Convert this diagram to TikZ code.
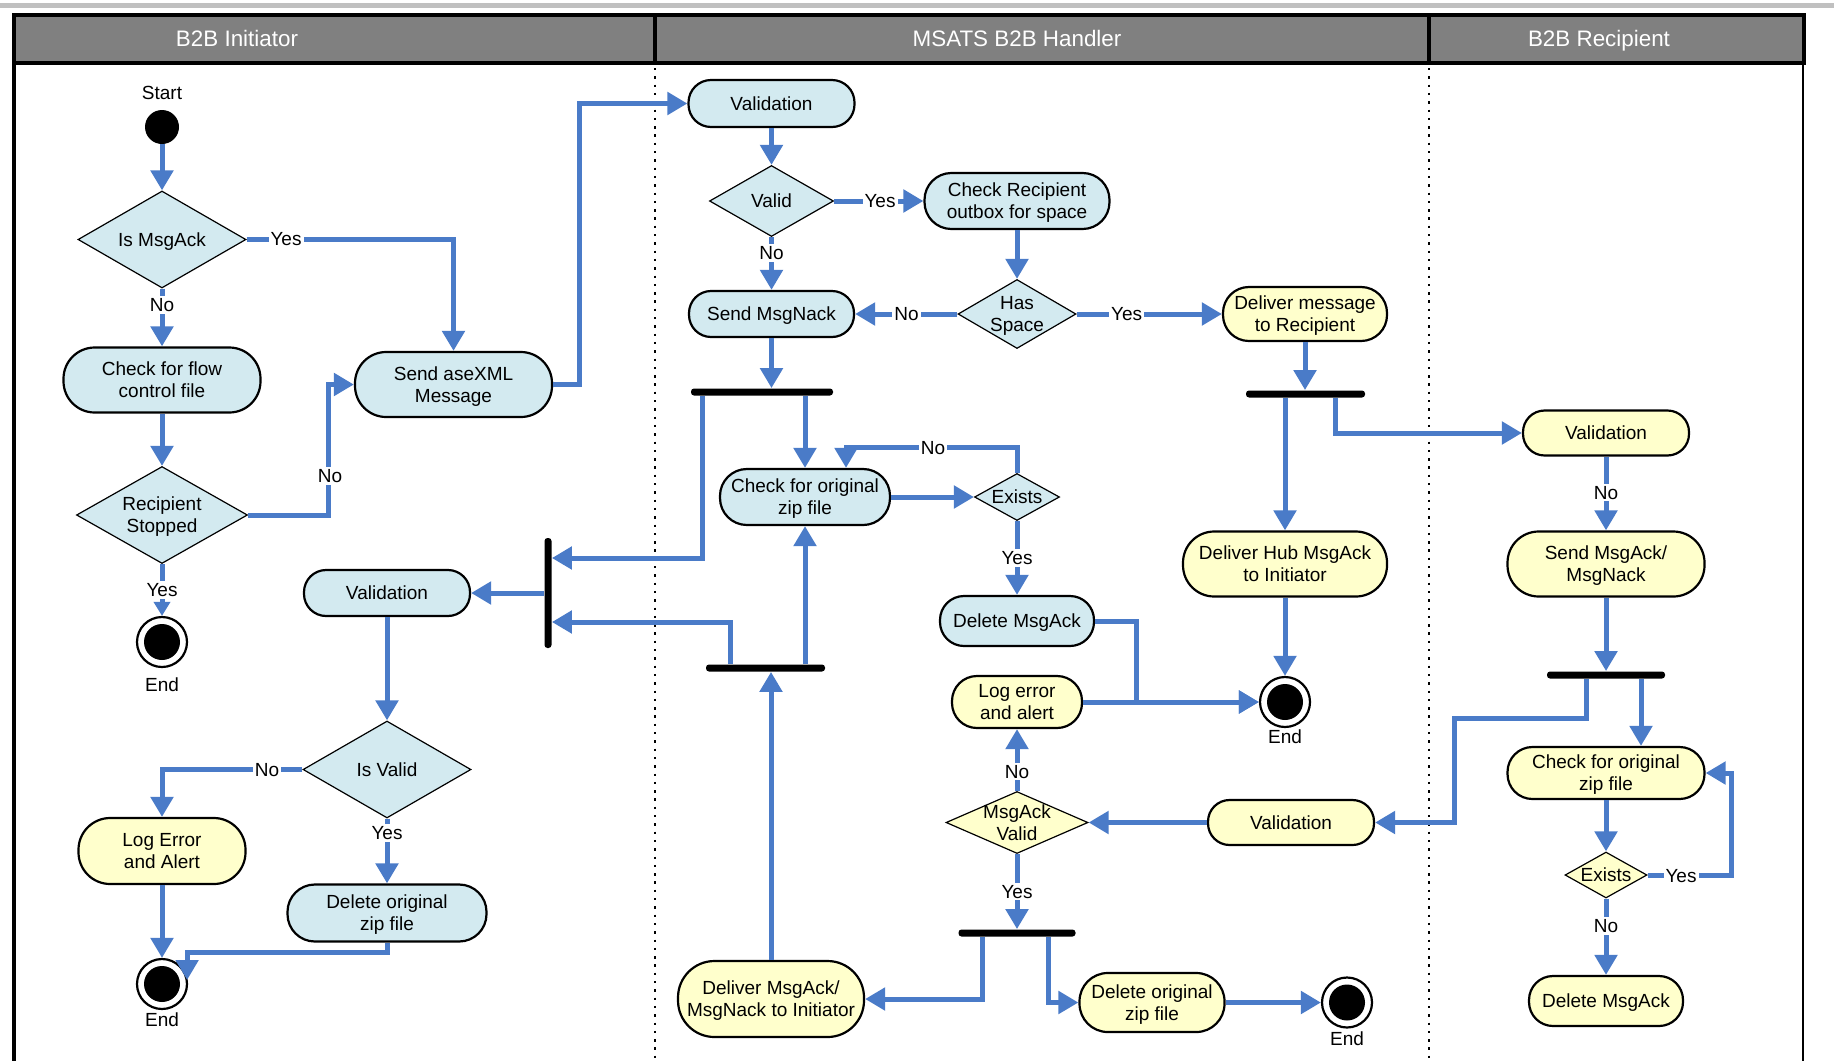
\documentclass[tikz,border=0pt]{standalone}
\usepackage{fontspec}
\setmainfont{Liberation Sans}
\usetikzlibrary{shapes.geometric,arrows.meta}
\definecolor{flowblue}{HTML}{4A7BC8}
\definecolor{actblue}{HTML}{D3EAF0}
\definecolor{actyellow}{HTML}{FFFFCC}
\definecolor{hdrgray}{HTML}{808080}
\definecolor{topgray}{HTML}{C0C0C0}
\tikzset{
  every node/.style={font=\fontsize{9.5pt}{11pt}\selectfont},
  actnode/.style n args={3}{draw=black, line width=1.1pt, fill=#1, rectangle,
     rounded corners=#3*0.24pt, minimum width=#2*0.5pt, minimum height=#3*0.5pt,
     inner sep=0pt, align=center, text depth=0pt},
  actb/.style 2 args={actnode={actblue}{#1}{#2}},
  acty/.style 2 args={actnode={actyellow}{#1}{#2}},
  decnode/.style n args={3}{diamond, aspect=2, draw=black, line width=0.6pt, fill=#1,
     minimum width=#2*0.5pt, minimum height=#3*0.5pt, inner sep=-3pt, align=center,
     text depth=0pt},
  decb/.style 2 args={decnode={actblue}{#1}{#2}},
  decy/.style 2 args={decnode={actyellow}{#1}{#2}},
  barnode/.style 2 args={fill=black, rectangle, rounded corners=1.5pt,
     minimum width=#1*0.5pt, minimum height=#2*0.5pt, inner sep=0pt},
  startnode/.style={circle, fill=black, minimum size=17pt, inner sep=0pt},
  endnode/.style={circle, draw=black, line width=1.1pt, fill=white, minimum size=25pt,
     inner sep=0pt, path picture={\fill[black] (path picture bounding box.center) circle (9pt);}},
  conn/.style={draw=flowblue, line width=2.5pt, -{Triangle[length=10pt,width=11pt]}},
  connsm/.style={conn, -{Triangle[length=7pt,width=8pt]}},
  lbl/.style={fill=white, inner sep=1pt},
  txt/.style={inner sep=1pt, text depth=0pt},
  hdr/.style={text=white, inner sep=1pt, text depth=0pt, font=\fontsize{11.2pt}{13pt}\selectfont},
  lanesep/.style={line width=1.2pt, dash pattern=on 1.2pt off 2.95pt}
}
\begin{document}
\begin{tikzpicture}[x=0.5pt, y=-0.5pt]
\useasboundingbox (0,0) rectangle (1834,1060);
\fill[white] (0,0) rectangle (1834,1060);
% frame and header
\fill[topgray] (0,3) rectangle (1834,8);
\draw[line width=1.6pt, fill=hdrgray] (14,15) rectangle (1804,63);
\draw[line width=1.6pt] (655,15) -- (655,63);
\draw[line width=1.6pt] (1429,15) -- (1429,63);
\draw[line width=1.6pt] (14,63) -- (14,1062);
\draw[line width=1.4pt] (1803,63) -- (1803,1062);
\draw[lanesep] (655,68) -- (655,1060);
\draw[lanesep] (1429,68) -- (1429,1060);
\node[hdr] (h1) at (237,38) {B2B Initiator};
\node[hdr] (h2) at (1017,38) {MSATS B2B Handler};
\node[hdr] (h3) at (1599,38) {B2B Recipient};

% ---------- Lane 1 ----------
\node[txt] (starttxt) at (162,93) {Start};
\node[startnode] (start) at (162,127) {};
\node[decb={168}{97}] (ismsgack) at (162,239.5) {Is MsgAck};
\node[actb={197}{65}] (chkflow) at (162,380) {Check for flow\\control file};
\node[actb={197}{65}] (sendxml) at (453.5,384.5) {Send aseXML\\Message};
\node[decb={171}{97}] (recstop) at (162,515) {Recipient\\Stopped};
\node[endnode] (end1) at (162,642) {};
\node[txt] (end1txt) at (162,684.5) {End};
\node[barnode={7}{110}] (barL) at (548,593) {};
\node[actb={166}{46}] (val1) at (387,593) {Validation};
\node[decb={168}{97}] (isvalid) at (387,769.5) {Is Valid};
\node[acty={167}{66}] (logerr1) at (162,851) {Log Error\\and Alert};
\node[actb={199}{57}] (delzip1) at (387,913) {Delete original\\zip file};
\node[endnode] (end2) at (162,984) {};
\node[txt] (end2txt) at (162,1019.5) {End};

% ---------- Lane 2 ----------
\node[actb={166}{47}] (val2) at (771.5,103.5) {Validation};
\node[decb={124}{71}] (valid) at (771.5,201) {Valid};
\node[actb={185}{56}] (chkrec) at (1017,201) {Check Recipient\\outbox for space};
\node[actb={165}{46}] (sendnack) at (771.5,314) {Send MsgNack};
\node[decb={118}{69}] (hasspace) at (1017,314) {Has\\Space};
\node[acty={164}{54}] (delmsg) at (1305,314) {Deliver message\\to Recipient};
\node[barnode={142}{7}] (bar1) at (762,392) {};
\node[barnode={119}{7}] (bar2) at (1305.5,394) {};
\node[actb={170}{56}] (chkzip2) at (805,497) {Check for original\\zip file};
\node[decb={85}{47}] (exists2) at (1017,497) {Exists};
\node[actb={154}{50}] (delack2) at (1017,621) {Delete MsgAck};
\node[acty={130}{52}] (logerr2) at (1017,702) {Log error\\and alert};
\node[endnode] (end3) at (1285,702) {};
\node[txt] (end3txt) at (1285,737) {End};
\node[acty={204}{65}] (hubdel) at (1285,564) {Deliver Hub MsgAck\\to Initiator};
\node[barnode={119}{7}] (bar3) at (765.5,668) {};
\node[acty={186}{76}] (delinit) at (771,999) {Deliver MsgAck/\\MsgNack to Initiator};
\node[decy={142}{62}] (ackvalid) at (1017,822.5) {MsgAck\\Valid};
\node[acty={166}{45}] (val3) at (1291,822.5) {Validation};
\node[barnode={117}{7}] (bar4) at (1017,933) {};
\node[acty={145}{59}] (delzip2) at (1152,1002.5) {Delete original\\zip file};
\node[endnode] (end4) at (1347,1002.5) {};
\node[txt] (end4txt) at (1347,1039) {End};

% ---------- Lane 3 ----------
\node[acty={166}{45}] (val4) at (1606,433) {Validation};
\node[acty={197}{65}] (sendack) at (1606,564) {Send MsgAck/\\MsgNack};
\node[barnode={118}{7}] (bar5) at (1606,675) {};
\node[acty={197}{52}] (chkzip3) at (1606,773) {Check for original\\zip file};
\node[decy={82}{46}] (exists3) at (1606,875) {Exists};
\node[acty={154}{50}] (delack3) at (1606,1001) {Delete MsgAck};

% ---------- Connectors ----------
\draw[conn] (start) -- (ismsgack.north);
\draw[conn] (ismsgack.east) -| (sendxml.north);
\draw[conn] (ismsgack.south) -- (chkflow.north);
\draw[conn] (chkflow.south) -- (recstop.north);
\draw[conn] (recstop.east) -| ([xshift=-12.5pt]sendxml.west) -- (sendxml.west);
\draw[connsm] (recstop.south) -- (end1.north);
\draw[conn] (sendxml.east) -- ++(26,0) |- (val2.west);
\draw[conn] (barL.west) -- (val1.east);
\draw[conn] (val1.south) -- (isvalid.north);
\draw[conn] (isvalid.west) -| (logerr1.north);
\draw[conn] (isvalid.south) -- (delzip1.north);
\draw[conn] (logerr1.south) -- (end2.north);
\draw[conn] (delzip1.south) -- ++(0,10) -| ([shift={(-0.5pt,2pt)}]end2.east);

\draw[conn] (val2.south) -- (valid.north);
\draw[conn] (valid.east) -- (chkrec.west);
\draw[conn] (valid.south) -- (sendnack.north);
\draw[conn] (chkrec.south) -- (hasspace.north);
\draw[conn] (hasspace.west) -- (sendnack.east |- hasspace.west);
\draw[conn] (hasspace.east) -- (delmsg.west);
\draw[conn] (sendnack.south) -- (sendnack.south |- bar1.north);
\draw[conn] (delmsg.south) -- (delmsg.south |- bar2.north);
\draw[conn] ([xshift=-29.75pt]bar1.south) |- ([yshift=17.5pt]barL.east);
\draw[conn] (chkzip2.north |- bar1.south) -- (chkzip2.north);
\draw[conn] (chkzip2.east) -- (exists2.west);
\draw[conn] (exists2.north) -- ++(0,-25) -| ([xshift=20.5pt]chkzip2.north);
\draw[conn] (exists2.south) -- (delack2.north);
\draw[conn] (delack2.east) -- ++(41,0) |- (end3.west);
\draw[conn] (logerr2.east) -- (end3.west);
\draw[conn] (hubdel.south) -- (end3.north);
\draw[conn] (hubdel.north |- bar2.south) -- (hubdel.north);
\draw[conn] ([xshift=14.75pt]bar2.south) |- (val4.west);
\draw[conn] (chkzip2.south |- bar3.north) -- (chkzip2.south);
\draw[conn] ([xshift=-17.5pt]bar3.north) |- ([yshift=-14.5pt]barL.east);
\draw[conn] (delinit.north) -- (delinit.north |- bar3.south);
\draw[conn] (ackvalid.north) -- (logerr2.south);
\draw[conn] (val3.west) -- (ackvalid.east);
\draw[conn] (ackvalid.south) -- (ackvalid.south |- bar4.north);
\draw[conn] ([xshift=-17.5pt]bar4.south) |- (delinit.east);
\draw[conn] ([xshift=15.5pt]bar4.south) |- (delzip2.west);
\draw[conn] (delzip2.east) -- (end4.west);

\draw[conn] (val4.south) -- (sendack.north);
\draw[conn] (sendack.south) -- (sendack.south |- bar5.north);
\draw[conn] ([xshift=-10pt]bar5.south) |- (1454,718) |- (val3.east);
\draw[conn] ([xshift=17.5pt]bar5.south) -- ([xshift=17.5pt]chkzip3.north);
\draw[conn] (chkzip3.south) -- (exists3.north);
\draw[conn] (exists3.east) -| ([xshift=13pt]chkzip3.east) -- (chkzip3.east);
\draw[conn] (exists3.south) -- (delack3.north);

% ---------- Labels ----------
\node[lbl] (l1) at (286,239.5) {Yes};
\node[lbl] (l2) at (162,305) {No};
\node[lbl] (l3) at (330,476) {No};
\node[lbl] (l4) at (162,590) {Yes};
\node[lbl] (l5) at (880,201) {Yes};
\node[lbl] (l6) at (771.5,253) {No};
\node[lbl] (l7) at (906.5,314) {No};
\node[lbl] (l8) at (1126.6,314) {Yes};
\node[lbl] (l9) at (933,448) {No};
\node[lbl] (l10) at (1017,558) {Yes};
\node[lbl] (l11) at (267,770) {No};
\node[lbl] (l12) at (387,833) {Yes};
\node[lbl] (l13) at (1017,771.6) {No};
\node[lbl] (l14) at (1017,891.6) {Yes};
\node[lbl] (l15) at (1606,492.6) {No};
\node[lbl] (l16) at (1681,875.6) {Yes};
\node[lbl] (l17) at (1606,926) {No};
\end{tikzpicture}
\end{document}
